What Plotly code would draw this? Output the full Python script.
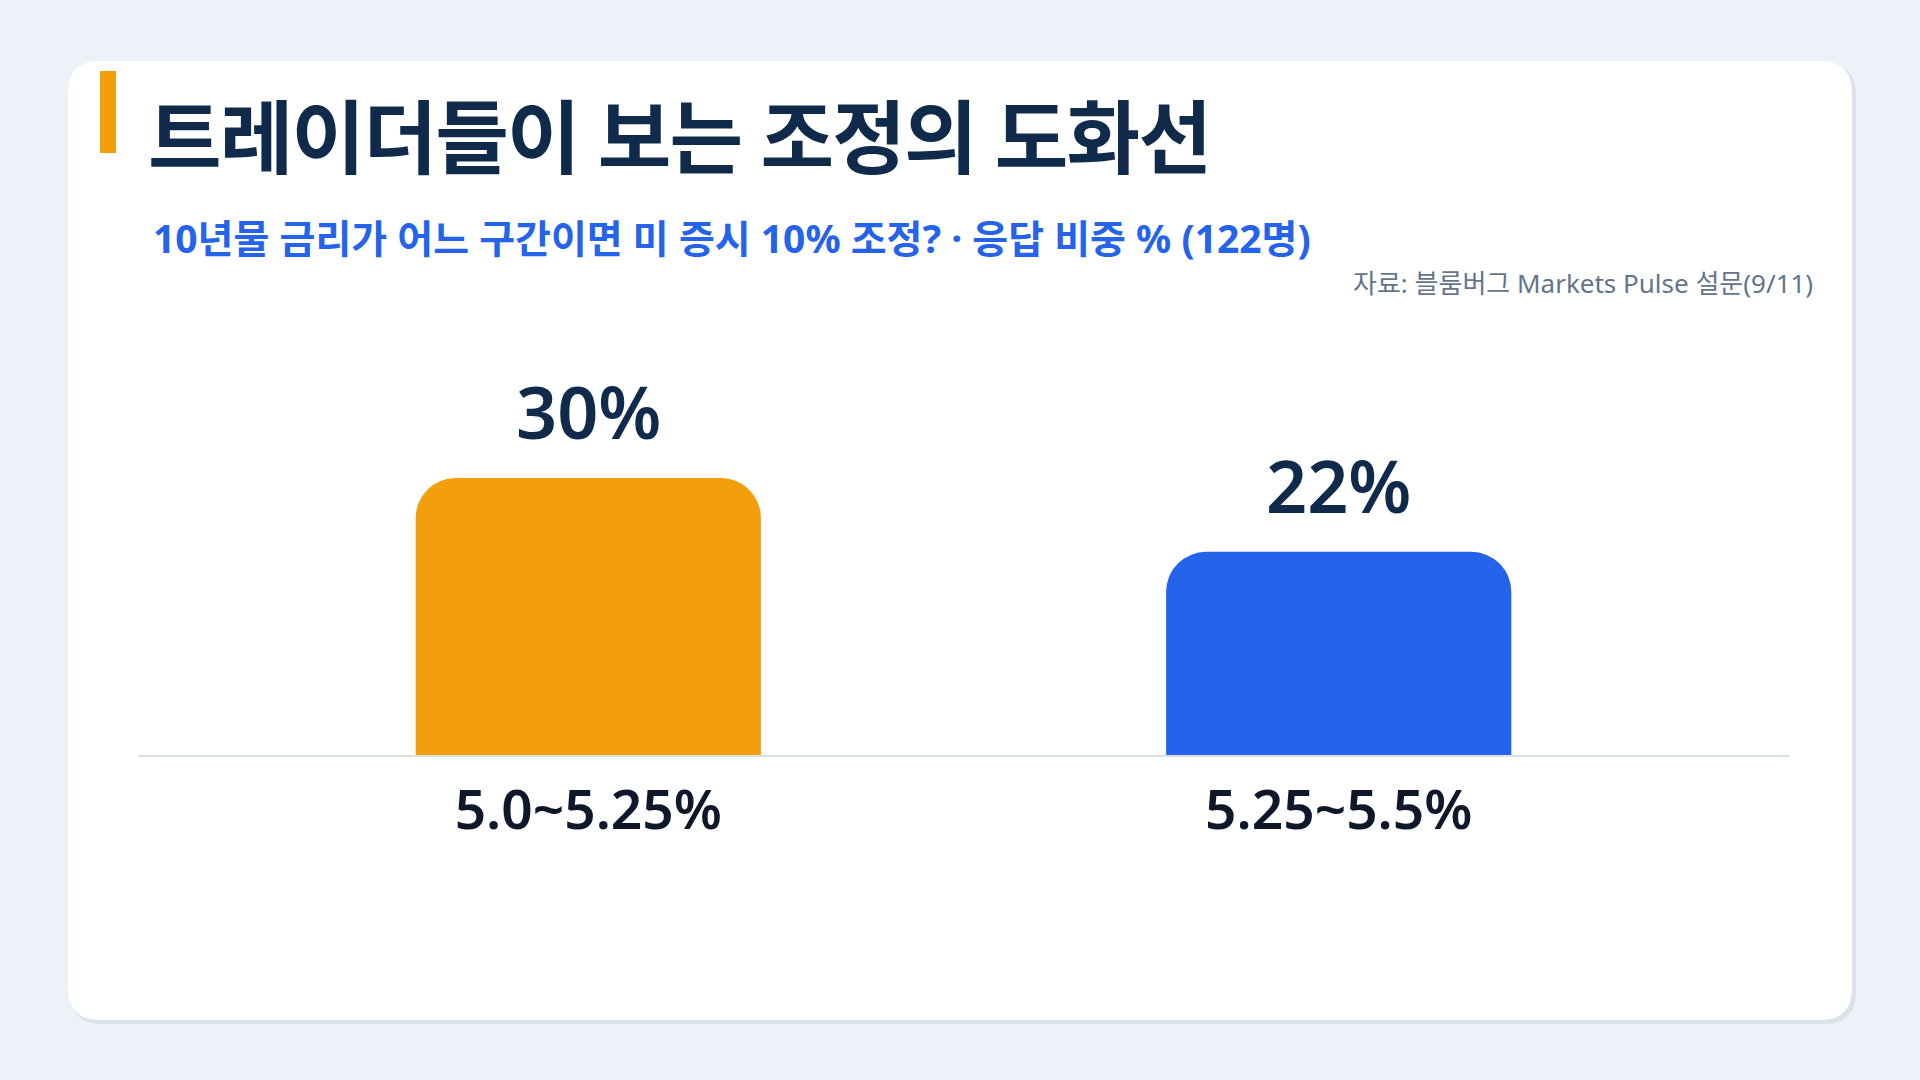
import plotly.graph_objects as go

categories = ["5.0~5.25%", "5.25~5.5%"]
values = [30, 22]
value_labels = ["30%", "22%"]
bar_colors = ["#F39E0C", "#2563EB"]

title_text = "트레이더들이 보는 조정의 도화선"
subtitle_text = "10년물 금리가 어느 구간이면 미 증시 10% 조정? · 응답 비중 % (122명)"
source_text = "자료: 블룸버그 Markets Pulse 설문(9/11)"

W, H = 1920, 1080
FONT = "Noto Sans, Noto Sans CJK KR, sans-serif"

def px(x):
    return x / W

def py(y):
    return 1 - y / H

# plot area in pixels
PL, PR, PT, PB = 138, 1789, 300, 755
px_per_unit = 277 / 30.0
ymax = (PB - PT) / px_per_unit

fig = go.Figure()
fig.add_trace(go.Bar(
    x=[0, 1],
    y=values,
    width=0.46,
    marker=dict(color=bar_colors, cornerradius=40, line=dict(width=0)),
    hoverinfo="skip",
))

def rounded_rect(x0, y0, x1, y1, r):
    X0, X1 = px(x0), px(x1)
    Y0, Y1 = py(y0), py(y1)
    rx, ry = r / W, r / H
    return (f"M {X0+rx},{Y0} L {X1-rx},{Y0} Q {X1},{Y0} {X1},{Y0-ry} "
            f"L {X1},{Y1+ry} Q {X1},{Y1} {X1-rx},{Y1} L {X0+rx},{Y1} "
            f"Q {X0},{Y1} {X0},{Y1+ry} L {X0},{Y0-ry} Q {X0},{Y0} {X0+rx},{Y0} Z")

shapes = [
    dict(type="path", xref="paper", yref="paper", layer="below",
         path=rounded_rect(70, 63, 1856, 1024, 32), fillcolor="#DCE2EB", line=dict(width=0)),
    dict(type="path", xref="paper", yref="paper", layer="below",
         path=rounded_rect(68, 61, 1852, 1020, 32), fillcolor="#FFFFFF", line=dict(width=0)),
    dict(type="rect", xref="paper", yref="paper", layer="above",
         x0=px(100), x1=px(116), y0=py(71), y1=py(153), fillcolor="#F39E0C", line=dict(width=0)),
]

annotations = [
    dict(text=f"<span style='letter-spacing:-1.8px'>{title_text}</span>", xref="paper", yref="paper",
         x=px(146), y=py(136),
         xanchor="left", yanchor="middle", showarrow=False,
         font=dict(family=FONT, size=80, color="#0F2A4B", weight=700)),
    dict(text=subtitle_text, xref="paper", yref="paper", x=px(151), y=py(238),
         xanchor="left", yanchor="middle", showarrow=False,
         font=dict(family=FONT, size=39, color="#2563EB", weight=700)),
    dict(text=source_text, xref="paper", yref="paper", x=px(1815), y=py(283),
         xanchor="right", yanchor="middle", showarrow=False,
         font=dict(family=FONT, size=26, color="#64748B")),
]
for i, (v, lab) in enumerate(zip(values, value_labels)):
    annotations.append(dict(text=lab, x=i, y=v, xref="x", yref="y",
                            xanchor="center", yanchor="bottom", yshift=16, showarrow=False,
                            font=dict(family=FONT, size=72, color="#0F2A4B", weight=600)))

fig.update_layout(
    width=W, height=H,
    margin=dict(l=0, r=0, t=0, b=0),
    paper_bgcolor="#EDF1F8",
    plot_bgcolor="rgba(0,0,0,0)",
    showlegend=False,
    shapes=shapes,
    annotations=annotations,
    xaxis=dict(domain=[px(PL), px(PR)], range=[-0.6, 1.6],
               tickmode="array", tickvals=[0, 1], ticktext=categories,
               tickfont=dict(family=FONT, size=55, color="#0F172A", weight=600),
               showgrid=False, zeroline=False, ticks="",
               showline=True, linecolor="#D8E0EA", linewidth=2,
               layer="below traces", ticklabelstandoff=6, fixedrange=True),
    yaxis=dict(domain=[py(PB), py(PT)], range=[0, ymax], visible=False,
               showgrid=False, zeroline=False, fixedrange=True),
)

fig.write_html("out.html", config={"displayModeBar": False},
               post_script="document.body.style.margin='0';document.body.style.background='#EDF1F8';")
